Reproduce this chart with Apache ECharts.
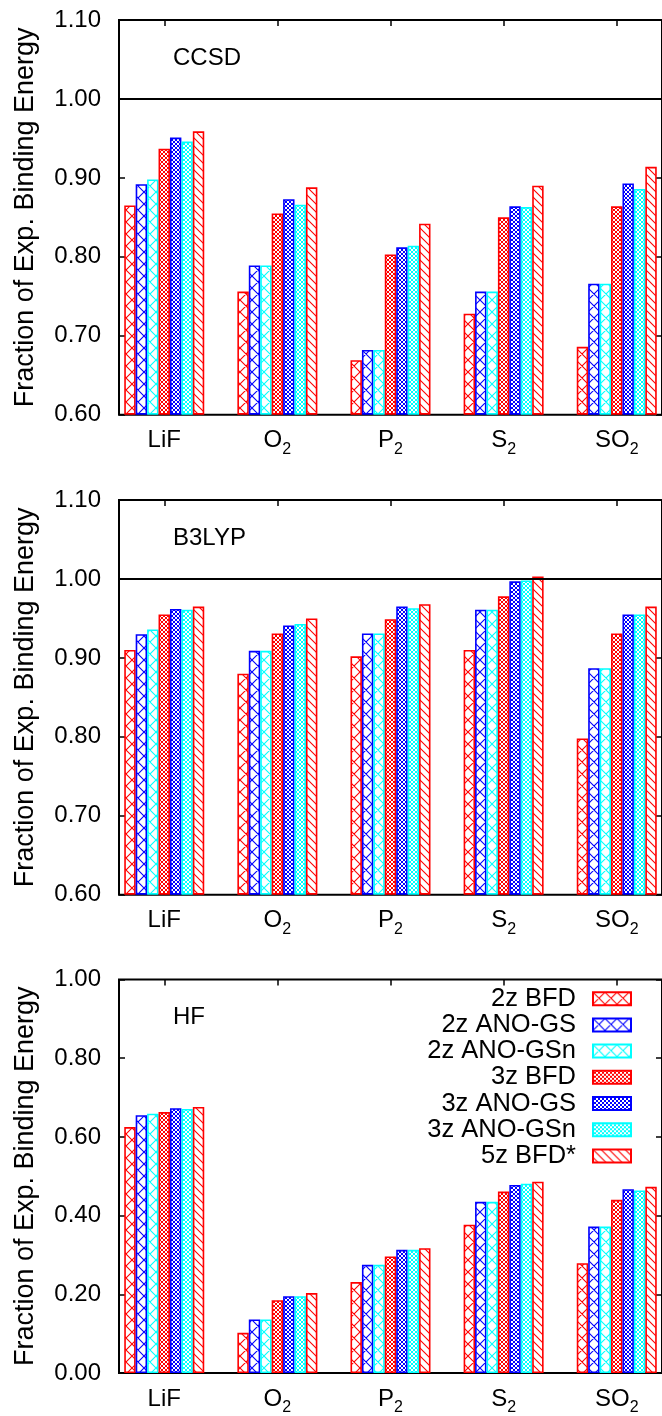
<!DOCTYPE html>
<html><head><meta charset="utf-8">
<script src="https://cdn.jsdelivr.net/npm/echarts@6/dist/echarts.min.js"></script>
<style>html,body{margin:0;padding:0;background:#fff}#c{width:662px;height:1416px}</style>
</head><body><div id="c"></div>
<script>
// ---- data ----
const categories = ['LiF', 'O2', 'P2', 'S2', 'SO2'];
const seriesNames = ['2z BFD', '2z ANO-GS', '2z ANO-GSn', '3z BFD', '3z ANO-GS', '3z ANO-GSn', '5z BFD*'];
const panelTitles = ['CCSD', 'B3LYP', 'HF'];
const yTitle = 'Fraction of Exp. Binding Energy';

// CCSD panel
const ccsd_2zBFD     = [0.865, 0.756, 0.669, 0.728, 0.686];
const ccsd_2zANOGS   = [0.892, 0.789, 0.682, 0.756, 0.766];
const ccsd_2zANOGSn  = [0.898, 0.789, 0.682, 0.756, 0.766];
const ccsd_3zBFD     = [0.937, 0.855, 0.803, 0.850, 0.864];
const ccsd_3zANOGS   = [0.951, 0.873, 0.812, 0.864, 0.893];
const ccsd_3zANOGSn  = [0.946, 0.866, 0.814, 0.863, 0.886];
const ccsd_5zBFD     = [0.959, 0.888, 0.842, 0.890, 0.914];
// B3LYP panel
const b3lyp_2zBFD    = [0.910, 0.880, 0.902, 0.910, 0.798];
const b3lyp_2zANOGS  = [0.930, 0.909, 0.931, 0.961, 0.887];
const b3lyp_2zANOGSn = [0.936, 0.909, 0.931, 0.961, 0.887];
const b3lyp_3zBFD    = [0.955, 0.931, 0.949, 0.978, 0.931];
const b3lyp_3zANOGS  = [0.962, 0.941, 0.965, 0.997, 0.955];
const b3lyp_3zANOGSn = [0.961, 0.943, 0.963, 0.998, 0.955];
const b3lyp_5zBFD    = [0.965, 0.950, 0.968, 1.003, 0.965];
// HF panel
const hf_2zBFD       = [0.625, 0.102, 0.231, 0.377, 0.279];
const hf_2zANOGS     = [0.655, 0.136, 0.275, 0.435, 0.372];
const hf_2zANOGSn    = [0.659, 0.136, 0.275, 0.435, 0.372];
const hf_3zBFD       = [0.663, 0.185, 0.296, 0.461, 0.440];
const hf_3zANOGS     = [0.673, 0.195, 0.313, 0.478, 0.467];
const hf_3zANOGSn    = [0.671, 0.195, 0.313, 0.481, 0.464];
const hf_5zBFD       = [0.676, 0.203, 0.317, 0.486, 0.473];

// y-axis ranges (min, max, step) per panel
const yMin = [0.6, 0.6, 0.0];
const yMax = [1.1, 1.1, 1.0];
const yStep = [0.1, 0.1, 0.2];
const refLine = [1.0, 1.0, null];

const panelData = [
  [ccsd_2zBFD, ccsd_2zANOGS, ccsd_2zANOGSn, ccsd_3zBFD, ccsd_3zANOGS, ccsd_3zANOGSn, ccsd_5zBFD],
  [b3lyp_2zBFD, b3lyp_2zANOGS, b3lyp_2zANOGSn, b3lyp_3zBFD, b3lyp_3zANOGS, b3lyp_3zANOGSn, b3lyp_5zBFD],
  [hf_2zBFD, hf_2zANOGS, hf_2zANOGSn, hf_3zBFD, hf_3zANOGS, hf_3zANOGSn, hf_5zBFD]
];

// ---- styles ----
const FONT = "'Liberation Sans', Arial, Helvetica, sans-serif";
const RED = '#ff0000', BLUE = '#0000ff', CYAN = '#00ffff';
const seriesColors = [RED, BLUE, CYAN, RED, BLUE, CYAN, RED];
const seriesPattern = ['cross', 'cross', 'cross', 'dense', 'dense', 'dense', 'diag'];

function makePattern(kind, color) {
  const s = kind === 'cross' ? 12 : (kind === 'dense' ? 4 : 8);
  const c = document.createElement('canvas');
  c.width = s; c.height = s;
  const ctx = c.getContext('2d');
  ctx.fillStyle = '#fff';
  ctx.fillRect(0, 0, s, s);
  ctx.strokeStyle = color;
  ctx.lineWidth = kind === 'dense' ? 1 : 1.1;
  ctx.beginPath();
  for (const k of [-s, 0, s]) {
    ctx.moveTo(k - 1, -1); ctx.lineTo(k + s + 1, s + 1);
    if (kind !== 'diag') {
      ctx.moveTo(k + s + 1, -1); ctx.lineTo(k - 1, s + 1);
    }
  }
  ctx.stroke();
  return { image: c, repeat: 'repeat' };
}

const GRID_LEFT = 119, GRID_W = 546, GRID_H = 394.7;
const gridTops = [20, 500, 979.5];
const X_MIN = -0.4, X_MAX = 4.4;
const catIdx = categories.map((_, i) => i);
const tickStyle = { color: '#000', width: 1.5 };

const grids = [], xAxes = [], yAxes = [], series = [], titles = [];

gridTops.forEach((top, p) => {
  grids.push({ left: GRID_LEFT, top: top, width: GRID_W, height: GRID_H,
    show: true, borderColor: '#000', borderWidth: 2, backgroundColor: 'transparent' });
  xAxes.push({ type: 'value', gridIndex: p, position: 'bottom', min: X_MIN, max: X_MAX,
    axisLine: { show: false, onZero: false }, splitLine: { show: false },
    axisTick: { show: true, inside: true, length: 6, customValues: catIdx, lineStyle: tickStyle },
    axisLabel: { show: true, customValues: catIdx, margin: 9, color: '#000', fontSize: 24, fontFamily: FONT, lineHeight: 34,
      formatter: v => categories[Math.round(v)].replace(/(\d)/g, '{sub|$1}'),
      rich: { sub: { fontSize: 16, lineHeight: 16, fontFamily: FONT, color: '#000', padding: [18, 0, 0, 0] } } }
  });
  xAxes.push({ type: 'value', gridIndex: p, position: 'top', min: X_MIN, max: X_MAX,
    axisLine: { show: false, onZero: false }, splitLine: { show: false }, axisLabel: { show: false },
    axisTick: { show: true, inside: true, length: 6, customValues: catIdx, lineStyle: tickStyle }
  });
  yAxes.push({ type: 'value', gridIndex: p, position: 'left', min: yMin[p], max: yMax[p], interval: yStep[p], startValue: yMin[p],
    name: yTitle, nameLocation: 'middle', nameGap: 80,
    nameTextStyle: { fontSize: 27, fontFamily: FONT, color: '#000' },
    axisLine: { show: false, onZero: false }, splitLine: { show: false },
    axisTick: { show: true, inside: true, length: 6, lineStyle: tickStyle },
    axisLabel: { margin: 18, color: '#000', fontSize: 24, fontFamily: FONT, padding: [4, 0, 0, 0],
      formatter: v => v.toFixed(2) }
  });
  yAxes.push({ type: 'value', gridIndex: p, position: 'right', min: yMin[p], max: yMax[p], interval: yStep[p],
    axisLine: { show: false, onZero: false }, splitLine: { show: false }, axisLabel: { show: false },
    axisTick: { show: true, inside: true, length: 6, lineStyle: tickStyle }
  });

  titles.push({ text: panelTitles[p], left: 168, top: top + 21, padding: 5,
    textStyle: { fontSize: 24, fontWeight: 'normal', color: '#000', fontFamily: FONT } });

  panelData[p].forEach((vals, s) => {
    const ser = {
      type: 'bar', name: seriesNames[s], xAxisIndex: p * 2, yAxisIndex: p * 2,
      data: vals.map((v, i) => [catIdx[i], v]),
      barWidth: 11.43, barGap: '0%', clip: true, silent: true,
      itemStyle: { color: makePattern(seriesPattern[s], seriesColors[s]), borderColor: seriesColors[s], borderWidth: 1.6 },
      emphasis: { disabled: true }
    };
    if (s === 0 && refLine[p] !== null) {
      ser.markLine = { silent: true, symbol: 'none', label: { show: false },
        lineStyle: { color: '#000', width: 2, type: 'solid' },
        data: [{ yAxis: refLine[p] }] };
    }
    series.push(ser);
  });
});

const chart = echarts.init(document.getElementById('c'), null, { renderer: 'canvas' });
chart.setOption({
  animation: false,
  backgroundColor: '#fff',
  title: titles,
  grid: grids,
  xAxis: xAxes,
  yAxis: yAxes,
  legend: {
    data: seriesNames, orient: 'vertical', align: 'right', right: 30, top: 985.6, padding: 0,
    icon: 'rect', itemWidth: 38, itemHeight: 13, itemGap: 0, selectedMode: false,
    textStyle: { fontSize: 25.5, lineHeight: 26.2, fontFamily: FONT, color: '#000', padding: [0, 12, 0, 0] }
  },
  series: series
});
</script>
</body></html>
